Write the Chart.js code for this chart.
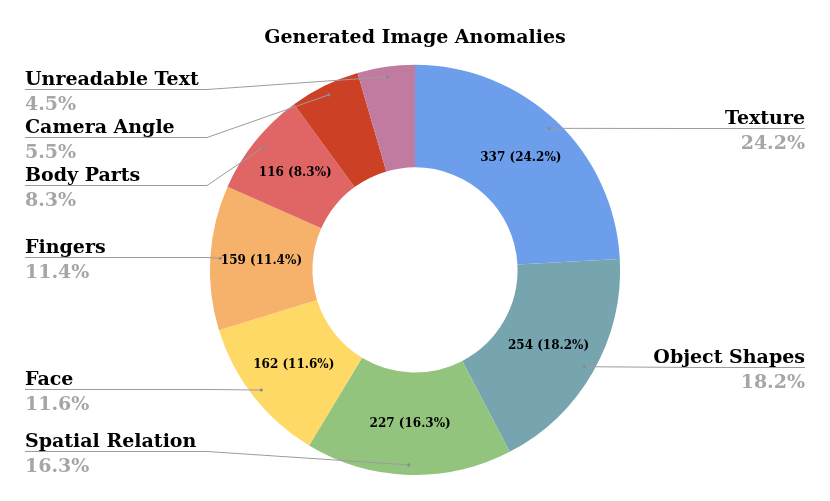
<!DOCTYPE html>
<html>
<head>
<meta charset="utf-8">
<script src="https://cdn.jsdelivr.net/npm/chart.js@4.4.0/dist/chart.umd.min.js"></script>
<style>
  html, body { margin: 0; padding: 0; background: #fff; }
</style>
</head>
<body>
<canvas id="anomalyChart" width="830" height="501"></canvas>
<script>
// data, clockwise from 12 o'clock
const categories = ['Texture', 'Object Shapes', 'Spatial Relation', 'Face', 'Fingers', 'Body Parts', 'Camera Angle', 'Unreadable Text'];
const counts = [337, 254, 227, 162, 159, 116, 77, 63];
const showInside = [true, true, true, true, true, true, false, false];

const sliceColors = ['#6d9eeb', '#76a5af', '#93c47d', '#ffd966', '#f6b26b', '#e06666', '#cc4125', '#c27ba0'];

// outside label placement: which side and the y of the underline
const labelSpots = [
    { side: 'right', y: 128 },
    { side: 'right', y: 367 },
    { side: 'left', y: 451 },
    { side: 'left', y: 389 },
    { side: 'left', y: 257 },
    { side: 'left', y: 185 },
    { side: 'left', y: 137 },
    { side: 'left', y: 89 }
];

const serif = "'DejaVu Serif', 'Liberation Serif', serif";

const calloutPlugin = {
    id: 'callouts',
    afterDatasetsDraw(chart) {
        const ctx = chart.ctx;
        const meta = chart.getDatasetMeta(0);
        const total = counts.reduce((a, b) => a + b, 0);

        meta.data.forEach((arc, i) => {
            const p = arc.getProps(['x', 'y', 'startAngle', 'endAngle', 'innerRadius', 'outerRadius'], true);
            const mid = (p.startAngle + p.endAngle) / 2;
            const pct = (counts[i] / total * 100).toFixed(1) + '%';
            const ax = p.x + Math.cos(mid) * (p.outerRadius - 10);
            const ay = p.y + Math.sin(mid) * (p.outerRadius - 10);

            const spot = labelSpots[i];
            const left = spot.side === 'left';
            const edgeX = left ? 25 : 805;
            const bendX = left ? 207 : 700;

            ctx.save();
            // leader line + underline
            ctx.strokeStyle = '#9c9c9c';
            ctx.lineWidth = 1;
            ctx.beginPath();
            ctx.moveTo(edgeX, spot.y + 0.5);
            ctx.lineTo(bendX, spot.y + 0.5);
            ctx.lineTo(ax, ay);
            ctx.stroke();
            ctx.fillStyle = '#8a8a8a';
            ctx.beginPath();
            ctx.arc(ax, ay, 1.6, 0, Math.PI * 2);
            ctx.fill();

            // name + percentage
            ctx.textAlign = left ? 'left' : 'right';
            ctx.textBaseline = 'alphabetic';
            ctx.font = 'bold 19px ' + serif;
            ctx.fillStyle = '#000';
            ctx.fillText(categories[i], edgeX, spot.y - 4);
            ctx.fillStyle = '#a6a6a6';
            ctx.fillText(pct, edgeX, spot.y + 21);

            // value inside the slice
            if (showInside[i]) {
                const r = (p.innerRadius + p.outerRadius) / 2;
                ctx.font = 'bold 12px ' + serif;
                ctx.fillStyle = '#000';
                ctx.textAlign = 'center';
                ctx.textBaseline = 'middle';
                ctx.fillText(counts[i] + ' (' + pct + ')', p.x + Math.cos(mid) * r, p.y + Math.sin(mid) * r);
            }
            ctx.restore();
        });
    }
};

new Chart(document.getElementById('anomalyChart').getContext('2d'), {
    type: 'doughnut',
    data: {
        labels: categories,
        datasets: [{ data: counts, backgroundColor: sliceColors, borderWidth: 0 }]
    },
    options: {
        responsive: false,
        animation: false,
        cutout: '50%',
        layout: { padding: { bottom: 26 } },
        plugins: {
            legend: { display: false },
            tooltip: { enabled: false },
            title: {
                display: true,
                text: 'Generated Image Anomalies',
                color: '#000',
                font: { family: serif, size: 19, weight: 'bold' },
                padding: { top: 27, bottom: 15 }
            }
        }
    },
    plugins: [calloutPlugin]
});
</script>
</body>
</html>
